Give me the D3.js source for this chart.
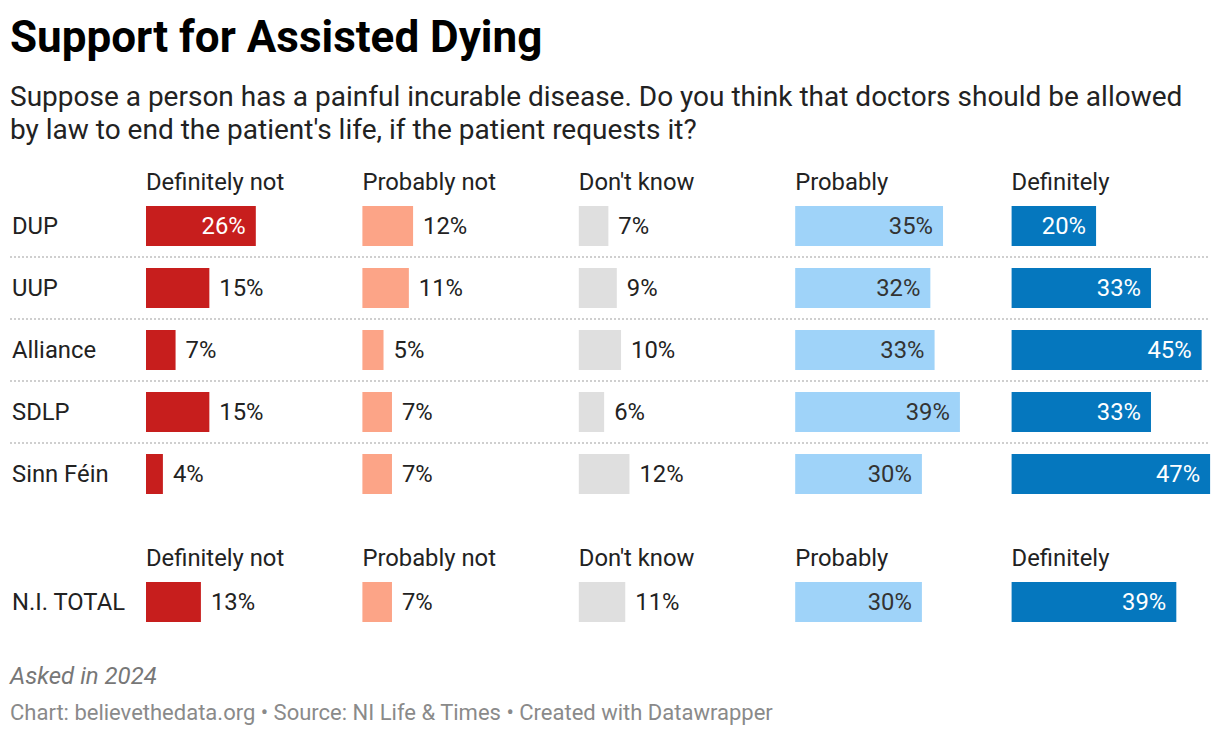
<!DOCTYPE html>
<html>
<head>
<meta charset="utf-8">
<script src="https://cdn.jsdelivr.net/npm/d3@7"></script>
<style>
  body { margin: 0; background: #fff; }
  svg text { font-family: Roboto, "Noto Sans", sans-serif; }
</style>
</head>
<body>
<script>
// data
var parties = ["DUP", "UUP", "Alliance", "SDLP", "Sinn Féin"];
var answers = ["Definitely not", "Probably not", "Don't know", "Probably", "Definitely"];
var definitelyNot = [26, 15, 7, 15, 4];
var probablyNot = [12, 11, 5, 7, 7];
var dontKnow = [7, 9, 10, 6, 12];
var probably = [35, 32, 33, 39, 30];
var definitely = [20, 33, 45, 33, 47];
var totalLabel = "N.I. TOTAL";
var totalValues = [13, 7, 11, 30, 39];
var colors = ["#c71e1d", "#fca487", "#dfdfdf", "#9fd3f9", "#0577be"];
var labelColors = ["#fff", "#333", "#333", "#333", "#fff"];

var series = [definitelyNot, probablyNot, dontKnow, probably, definitely];

var width = 1220;
var height = 736;
var fs = "23.8px";

var svg = d3.select("body").append("svg")
  .attr("width", width)
  .attr("height", height);

// title + subtitle
svg.append("text")
  .attr("x", 10).attr("y", 52)
  .style("font-size", "44px").style("font-weight", "700").style("fill", "#000")
  .text("Support for Assisted Dying");

var subtitle = ["Suppose a person has a painful incurable disease. Do you think that doctors should be allowed",
                "by law to end the patient's life, if the patient requests it?"];
svg.selectAll(".sub")
  .data(subtitle)
  .enter().append("text")
  .attr("class", "sub")
  .attr("x", 10)
  .attr("y", function (d, i) { return 106 + i * 33; })
  .style("font-size", "28px").style("fill", "#222")
  .text(function (d) { return d; });

var col = d3.scaleBand().domain(answers).range([146, 146 + 5 * 216.4]);
var x = d3.scaleLinear().domain([0, 47]).range([0, 198.5]);
var y = d3.scalePoint().domain(parties).range([226, 474]);
var barH = 40;
var insideMin = 20;

function headers(yy) {
  svg.append("g").selectAll("text")
    .data(answers)
    .enter().append("text")
    .attr("x", function (d) { return col(d); })
    .attr("y", yy)
    .style("font-size", fs).style("fill", "#222")
    .text(function (d) { return d; });
}

function drawRow(label, values, cy) {
  var g = svg.append("g").attr("transform", "translate(0," + cy + ")");
  g.append("text")
    .attr("x", 12).attr("y", 0).attr("dy", "0.35em")
    .style("font-size", fs).style("fill", "#222")
    .text(label);
  var cell = g.selectAll(".cell")
    .data(values)
    .enter().append("g")
    .attr("class", "cell")
    .attr("transform", function (d, i) { return "translate(" + col(answers[i]) + ",0)"; });
  cell.append("rect")
    .attr("x", 0)
    .attr("y", -barH / 2)
    .attr("width", function (d) { return x(d); })
    .attr("height", barH)
    .style("fill", function (d, i) { return colors[i]; });
  cell.append("text")
    .attr("x", function (d) { return d >= insideMin ? x(d) - 10 : x(d) + 10; })
    .attr("y", 0).attr("dy", "0.35em")
    .attr("text-anchor", function (d) { return d >= insideMin ? "end" : "start"; })
    .style("font-size", fs)
    .style("fill", function (d, i) { return d >= insideMin ? labelColors[i] : "#222"; })
    .text(function (d) { return d + "%"; });
}

headers(190);
parties.forEach(function (p, r) {
  drawRow(p, series.map(function (s) { return s[r]; }), y(p));
});

// dotted separators between party rows
svg.selectAll(".sep")
  .data(parties.slice(1))
  .enter().append("line")
  .attr("class", "sep")
  .attr("x1", 10).attr("x2", 1208)
  .attr("y1", function (d) { return y(d) - 31; })
  .attr("y2", function (d) { return y(d) - 31; })
  .style("stroke", "#cfcfcf")
  .style("stroke-width", 2)
  .style("stroke-dasharray", "2,2");

// total block
headers(566);
drawRow(totalLabel, totalValues, 602);

// footer
svg.append("text")
  .attr("x", 10).attr("y", 684)
  .style("font-size", "24px").style("font-style", "italic").style("fill", "#777")
  .text("Asked in 2024");
svg.append("text")
  .attr("x", 10).attr("y", 720)
  .style("font-size", "22px").style("fill", "#8a8a8a")
  .text("Chart: believethedata.org • Source: NI Life & Times • Created with Datawrapper");
</script>
</body>
</html>
